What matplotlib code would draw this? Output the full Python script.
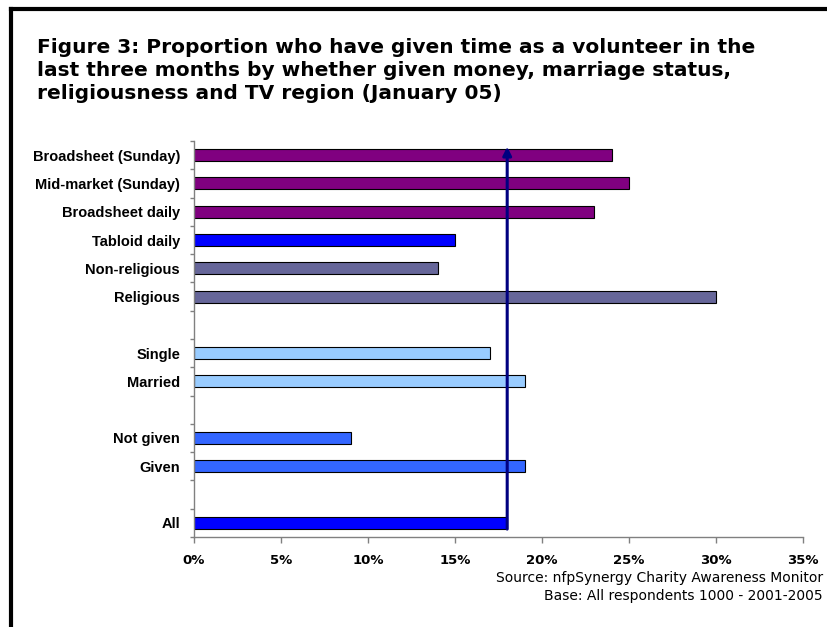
import matplotlib
matplotlib.use('Agg')
import matplotlib.pyplot as plt
from matplotlib.lines import Line2D
import numpy as np

# rows from bottom to top, '' = empty spacer slot
labels = ['All', '', 'Given', 'Not given', '', 'Married', 'Single', '',
          'Religious', 'Non-religious', 'Tabloid daily', 'Broadsheet daily',
          'Mid-market (Sunday)', 'Broadsheet (Sunday)']
values = [18, None, 19, 9, None, 19, 17, None, 30, 14, 15, 23, 25, 24]
colors = ['#0000FF', None, '#3366FF', '#3366FF', None, '#99CCFF', '#99CCFF', None,
          '#666699', '#666699', '#0000FF', '#800080', '#800080', '#800080']
all_value = 18
x_ticks = [0, 5, 10, 15, 20, 25, 30, 35]

fig = plt.figure(figsize=(8.28, 6.27), dpi=100)
ax = fig.add_axes([194 / 828, 1 - 537 / 627, 609 / 828, 396 / 627])

pos = np.arange(len(labels))
for y, v, c in zip(pos, values, colors):
    if v is None:
        continue
    ax.barh(y, v, height=0.42, color=c, edgecolor='black', linewidth=0.8, zorder=2)

ax.set_xlim(0, 35)
ax.set_ylim(-0.5, len(labels) - 0.5)

# category labels at centers, tick marks between categories (Excel style)
ax.set_yticks(pos)
ax.set_yticklabels(labels, fontsize=10.5, fontweight='bold', family='Liberation Sans')
ax.tick_params(axis='y', which='major', length=0, pad=10)
ax.set_yticks(np.arange(-0.5, len(labels), 1), minor=True)
ax.tick_params(axis='y', which='minor', length=3, color='#808080', width=1)

ax.set_xticks(x_ticks)
ax.set_xticklabels([f'{t}%' for t in x_ticks], fontsize=9.5, fontweight='bold')
ax.tick_params(axis='x', length=4, color='#808080', width=1, pad=8)

for s in ['top', 'right']:
    ax.spines[s].set_visible(False)
for s in ['left', 'bottom']:
    ax.spines[s].set_color('#808080')
    ax.spines[s].set_linewidth(1)

# average line with arrow
ax.annotate('', xy=(all_value, len(labels) - 0.7), xytext=(all_value, -0.22),
            arrowprops=dict(arrowstyle='-|>,head_length=0.5,head_width=0.25',
                            color='#000080', lw=2.2, shrinkA=0, shrinkB=0), zorder=5)

fig.text(37 / 828, 1 - 38 / 627,
         'Figure 3: Proportion who have given time as a volunteer in the\n'
         'last three months by whether given money, marriage status,\n'
         'religiousness and TV region (January 05)',
         fontsize=14.5, fontweight='bold', va='top', ha='left', linespacing=1.28)

fig.text(823 / 828, 1 - 578 / 627, 'Source: nfpSynergy Charity Awareness Monitor',
         fontsize=10, ha='right', va='center')
fig.text(823 / 828, 1 - 596 / 627, 'Base: All respondents 1000 - 2001-2005',
         fontsize=10, ha='right', va='center')

# black frame on left and top
fig.add_artist(Line2D([11 / 828, 11 / 828], [0, 1 - 9 / 627], color='black', lw=3,
                      transform=fig.transFigure, solid_capstyle='projecting'))
fig.add_artist(Line2D([11 / 828, 1], [1 - 9 / 627, 1 - 9 / 627], color='black', lw=3,
                      transform=fig.transFigure, solid_capstyle='projecting'))

fig.savefig('out.png', dpi=100)
